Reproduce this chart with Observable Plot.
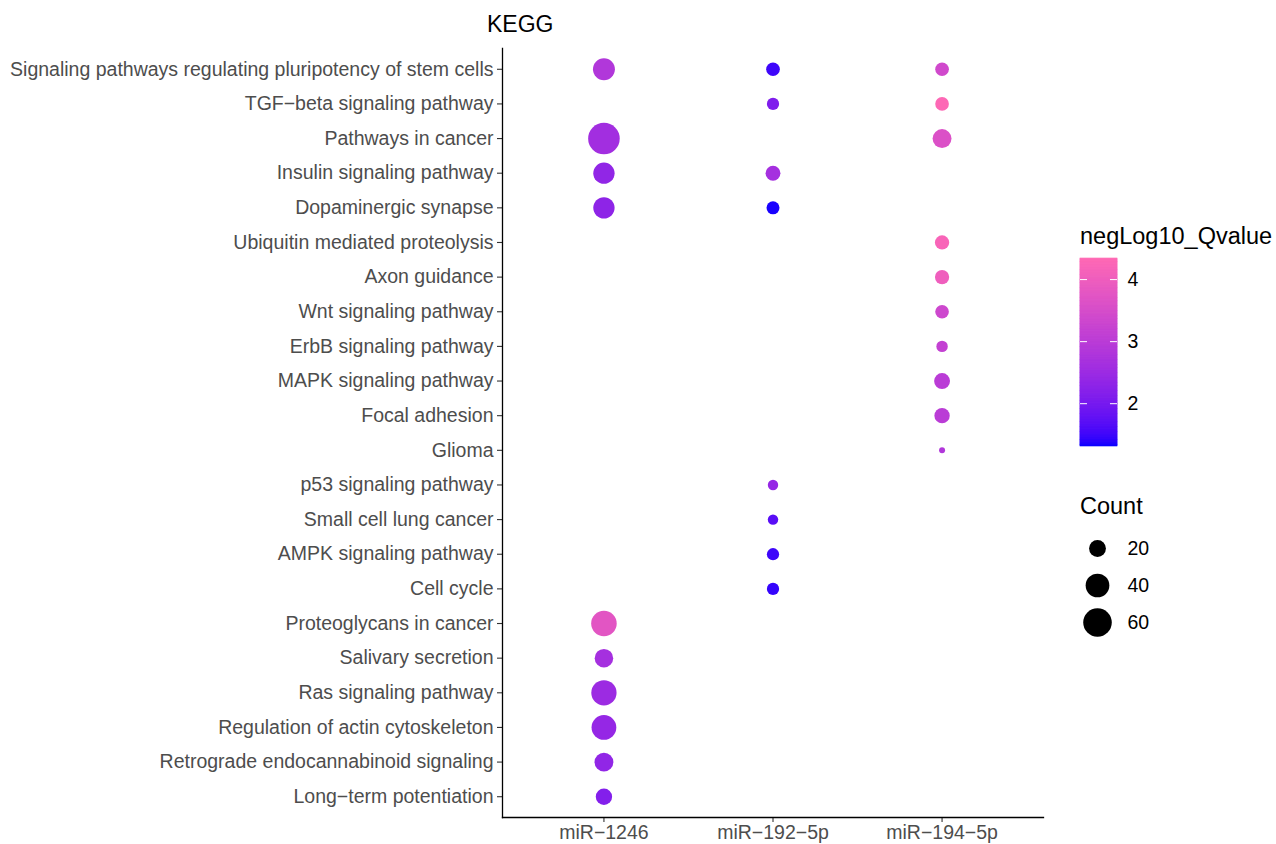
<!DOCTYPE html>
<html>
<head>
<meta charset="utf-8">
<script src="https://cdn.jsdelivr.net/npm/d3@7"></script>
<script src="https://cdn.jsdelivr.net/npm/@observablehq/plot@0.6"></script>
<style>
  html, body { margin: 0; padding: 0; background: white; }
  #wrap { position: relative; width: 1276px; height: 844px; font-family: "Liberation Sans", Arial, sans-serif; overflow: hidden; }
  #wrap > * { position: absolute; }
  .ttl { color: #000; white-space: nowrap; line-height: 1; }
</style>
</head>
<body>
<div id="wrap"></div>
<script>
// ---- data ----
const pathways = [
  "Signaling pathways regulating pluripotency of stem cells",
  "TGF\u2212beta signaling pathway",
  "Pathways in cancer",
  "Insulin signaling pathway",
  "Dopaminergic synapse",
  "Ubiquitin mediated proteolysis",
  "Axon guidance",
  "Wnt signaling pathway",
  "ErbB signaling pathway",
  "MAPK signaling pathway",
  "Focal adhesion",
  "Glioma",
  "p53 signaling pathway",
  "Small cell lung cancer",
  "AMPK signaling pathway",
  "Cell cycle",
  "Proteoglycans in cancer",
  "Salivary secretion",
  "Ras signaling pathway",
  "Regulation of actin cytoskeleton",
  "Retrograde endocannabinoid signaling",
  "Long\u2212term potentiation"
];
const mirnas = ["miR\u22121246", "miR\u2212192\u22125p", "miR\u2212194\u22125p"];

// one entry per dot: pathway index, miRNA index, gene count, -log10 q
const dotPathway = [0, 2, 3, 4, 16, 17, 18, 19, 20, 21,
                    0, 1, 3, 4, 12, 13, 14, 15,
                    0, 1, 2, 5, 6, 7, 8, 9, 10, 11];
const dotMirna   = [0, 0, 0, 0, 0, 0, 0, 0, 0, 0,
                    1, 1, 1, 1, 1, 1, 1, 1,
                    2, 2, 2, 2, 2, 2, 2, 2, 2, 2];
const dotCount   = [34, 75, 32, 32, 47, 24, 46, 44, 25, 19,
                    14, 12, 16, 13, 10, 10, 12, 12,
                    14, 14, 25, 15, 15, 14, 11, 18, 17, 8];
const dotQ       = [2.85, 2.6, 2.35, 2.3, 3.75, 2.65, 2.5, 2.4, 2.35, 2.15,
                    1.5, 2.1, 2.65, 1.35, 2.4, 1.7, 1.5, 1.45,
                    3.4, 4.3, 3.6, 4.2, 4.0, 3.35, 3.15, 3.0, 3.0, 2.85];

const sizeBreaks = [20, 40, 60];
const colorTicks = [2, 3, 4];
const CMIN = 8, CMAX = 75;
const QMIN = 1.31, QMAX = 4.34;

const table = dotPathway.map((p, i) => ({
  pathway: pathways[p], mirna: mirnas[dotMirna[i]], count: dotCount[i], q: dotQ[i]
}));

const font = '"Liberation Sans", Arial, sans-serif';
const rScale = {type: "sqrt", domain: [0, CMAX - CMIN], range: [3, 15.8]};
const colorScale = {type: "linear", domain: [QMIN, QMAX], range: ["blue", "hotpink"], interpolate: "lab"};

const wrap = document.getElementById("wrap");

// ---- main chart ----
const main = Plot.plot({
  width: 1276, height: 844,
  marginLeft: 502, marginRight: 233, marginTop: 48, marginBottom: 27,
  style: {fontFamily: font, fontSize: "19.5px", background: "white", overflow: "visible"},
  x: {type: "point", domain: mirnas, padding: 0.6, round: false, label: null},
  y: {type: "point", domain: pathways, padding: 0.6, round: false, label: null},
  r: rScale,
  color: colorScale,
  marks: [
    Plot.dot(table, {x: "mirna", y: "pathway", r: d => d.count - CMIN, fill: "q", stroke: null}),
    Plot.axisY({tickSize: 5, tickPadding: 4, fontSize: 19.5, fill: "#4d4d4d", stroke: "#333", strokeWidth: 1.1}),
    Plot.axisX({tickSize: 5, tickPadding: 3, fontSize: 19.5, fill: "#4d4d4d", stroke: "#333", strokeWidth: 1.1}),
    Plot.frame({anchor: "left", stroke: "#000", strokeWidth: 1.3}),
    Plot.frame({anchor: "bottom", stroke: "#000", strokeWidth: 1.3})
  ]
});
main.style.left = "0px"; main.style.top = "0px";
wrap.appendChild(main);

// ---- title ----
const title = document.createElement("div");
title.className = "ttl";
title.textContent = "KEGG";
title.style.cssText = "left:487px; top:13px; font-size:23px;";
wrap.appendChild(title);

// ---- color legend ----
const cTitle = document.createElement("div");
cTitle.className = "ttl";
cTitle.textContent = "negLog10_Qvalue";
cTitle.style.cssText = "left:1080px; top:225px; font-size:23.5px;";
wrap.appendChild(cTitle);

const steps = d3.range(QMIN, QMAX, 0.01);
const cbar = Plot.plot({
  width: 77, height: 204,
  marginLeft: 0, marginRight: 40, marginTop: 8, marginBottom: 8,
  style: {fontFamily: font, fontSize: "19.5px", background: "transparent", overflow: "visible"},
  x: {domain: [0, 1], axis: null},
  y: {domain: [QMIN, QMAX]},
  color: colorScale,
  marks: [
    Plot.rect(steps, {x1: 0, x2: 1, y1: d => d, y2: d => Math.min(QMAX, d + 0.012),
                      fill: d => d + 0.005, stroke: d => d + 0.005, strokeWidth: 0.6}),
    Plot.ruleY(colorTicks, {x1: 0, x2: 0.19, stroke: "white", strokeWidth: 1}),
    Plot.ruleY(colorTicks, {x1: 0.81, x2: 1, stroke: "white", strokeWidth: 1}),
    Plot.axisY(colorTicks, {anchor: "right", tickSize: 0, tickPadding: 10, fontSize: 19.5, fill: "#000", tickFormat: d => String(d)})
  ]
});
cbar.style.left = "1080px"; cbar.style.top = "250px";
wrap.appendChild(cbar);

// ---- size legend ----
const sTitle = document.createElement("div");
sTitle.className = "ttl";
sTitle.textContent = "Count";
sTitle.style.cssText = "left:1080px; top:495px; font-size:23.5px;";
wrap.appendChild(sTitle);

const sleg = Plot.plot({
  width: 80, height: 110,
  marginLeft: 22, marginRight: 0, marginTop: 0, marginBottom: 0,
  style: {fontFamily: font, fontSize: "19.5px", background: "transparent", overflow: "visible"},
  x: {domain: [0, 1], axis: null},
  y: {type: "point", domain: sizeBreaks.map(String), range: [18, 92], padding: 0, round: false, axis: null},
  r: rScale,
  marks: [
    Plot.dot(sizeBreaks, {frameAnchor: "left", y: d => String(d), r: d => d - CMIN, fill: "black", stroke: null}),
    Plot.text(sizeBreaks, {frameAnchor: "left", y: d => String(d), text: d => String(d), dx: 30, textAnchor: "start", fontSize: 19.5, fill: "#000"})
  ]
});
sleg.style.left = "1075px"; sleg.style.top = "530px";
wrap.appendChild(sleg);
</script>
</body>
</html>
